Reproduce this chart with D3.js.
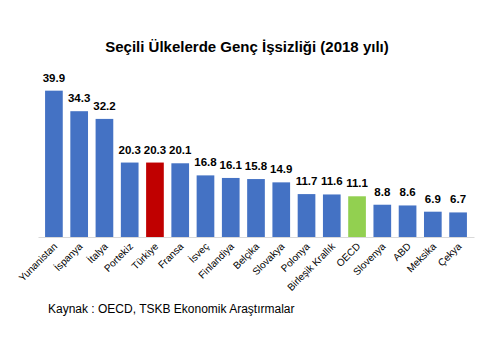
<!DOCTYPE html>
<html>
<head>
<meta charset="utf-8">
<script src="https://cdn.jsdelivr.net/npm/d3@7"></script>
<style>
  body { margin: 0; background: #fff; }
  svg { display: block; }
</style>
</head>
<body>
<svg class="chart"></svg>
<script>
// data
var countries = ['Yunanistan', 'İspanya', 'İtalya', 'Portekiz', 'Türkiye', 'Fransa', 'İsveç',
    'Finlandiya', 'Belçika', 'Slovakya', 'Polonya', 'Birleşik Krallık', 'OECD', 'Slovenya',
    'ABD', 'Meksika', 'Çekya'];
var rates = [39.9, 34.3, 32.2, 20.3, 20.3, 20.1, 16.8, 16.1, 15.8, 14.9, 11.7, 11.6, 11.1,
    8.8, 8.6, 6.9, 6.7];
var highlight = { 'Türkiye': '#c00000', 'OECD': '#92d050' };

var width = 486, height = 350;
var baseY = 237;

var svg = d3.select('.chart')
    .attr('width', width)
    .attr('height', height);

// title
svg.append('text')
    .attr('x', 247)
    .attr('y', 52)
    .attr('text-anchor', 'middle')
    .style('font-family', 'Liberation Sans, Arial, sans-serif')
    .style('font-weight', 'bold')
    .style('font-size', '15px')
    .text('Seçili Ülkelerde Genç İşsizliği (2018 yılı)');

var x = d3.scaleBand()
    .domain(countries)
    .range([38, 474])
    .paddingInner(0.3)
    .paddingOuter(0.28);

var y = d3.scaleLinear()
    .domain([0, 40])
    .range([baseY, baseY - 146.7]);

var data = countries.map(function (c, i) { return { name: c, value: rates[i] }; });

var bars = svg.selectAll('g.bar').data(data)
    .enter()
    .append('g')
    .attr('class', 'bar');

bars.append('rect')
    .attr('x', function (d) { return x(d.name); })
    .attr('y', function (d) { return y(d.value); })
    .attr('width', x.bandwidth())
    .attr('height', function (d) { return baseY - y(d.value); })
    .attr('fill', function (d) { return highlight[d.name] || '#4472c4'; });

// value labels
bars.append('text')
    .attr('x', function (d) { return x(d.name) + x.bandwidth() / 2; })
    .attr('y', function (d) { return y(d.value) - 9; })
    .attr('text-anchor', 'middle')
    .style('font-family', 'Liberation Sans, Arial, sans-serif')
    .style('font-weight', 'bold')
    .style('font-size', '11.5px')
    .text(function (d) { return d.value.toFixed(1); });

// baseline axis
var axis = d3.axisBottom(x).tickSize(0).tickPadding(0);
var axisG = svg.append('g')
    .attr('transform', 'translate(0,' + baseY + ')')
    .call(axis);
axisG.select('.domain').attr('stroke', '#d9d9d9');
axisG.selectAll('.tick text')
    .attr('text-anchor', 'end')
    .attr('dy', 0)
    .attr('transform', 'translate(4,10) rotate(-45)')
    .style('font-family', 'Liberation Sans, Arial, sans-serif')
    .style('font-size', '10px')
    .attr('fill', '#000');

// source note
svg.append('text')
    .attr('x', 48)
    .attr('y', 313)
    .style('font-family', 'Liberation Sans, Arial, sans-serif')
    .style('font-size', '12px')
    .text('Kaynak : OECD, TSKB Ekonomik Araştırmalar');
</script>
</body>
</html>
